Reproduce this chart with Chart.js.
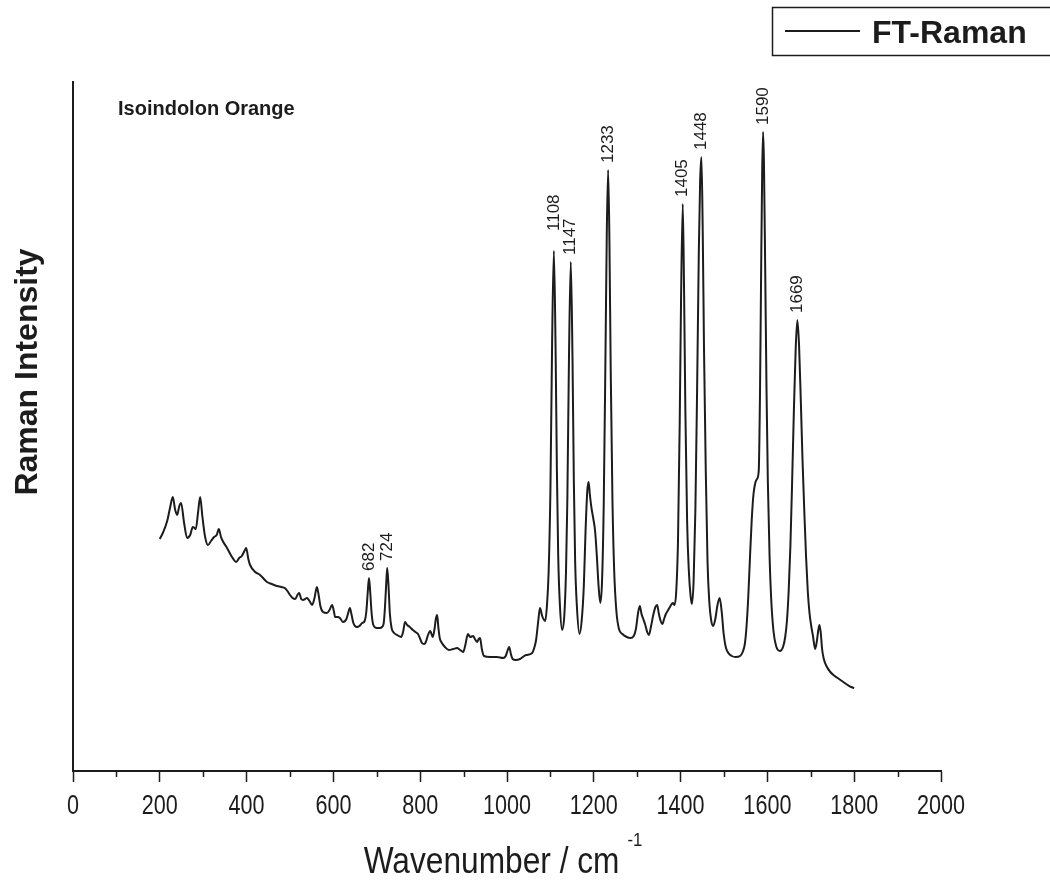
<!DOCTYPE html>
<html>
<head>
<meta charset="utf-8">
<title>FT-Raman - Isoindolon Orange</title>
<script src="https://cdn.jsdelivr.net/npm/chart.js@4.4.1/dist/chart.umd.min.js"></script>
<style>
  html, body { margin: 0; padding: 0; background: #fff; }
  canvas { display: block; }
</style>
</head>
<body>
<canvas id="raman" width="1050" height="886"></canvas>
<script>
// FT-Raman spectrum, wavenumber (cm-1) against intensity (arbitrary units)
const sampleName = 'Isoindolon Orange';
const seriesLabel = 'FT-Raman';

const wavenumber = [
  200, 207, 217, 223, 230, 235, 240, 245, 249, 256, 263, 270, 276, 280, 283, 288, 293, 298,
  304, 311, 318, 325, 331, 336, 341, 345, 355, 365, 376, 383, 389, 395, 399, 404, 408, 420,
  431, 440, 447, 458, 470, 480, 488, 494, 500, 506, 512, 517, 521, 526, 530, 535, 539, 545,
  551, 556, 562, 566, 570, 576, 585, 591, 597, 601, 604, 610, 615, 622, 630, 634, 638, 642,
  646, 654, 660, 666, 672, 676, 679, 682, 685, 688, 692, 700, 707, 712, 716, 719, 722, 724,
  727, 730, 734, 740, 747, 756, 761, 765, 770, 776, 783, 789, 795, 800, 804, 809, 813, 818,
  823, 829, 833, 836, 839, 842, 845, 850, 857, 866, 876, 885, 892, 899, 904, 910, 915, 922,
  926, 931, 935, 938, 942, 947, 961, 977, 991, 997, 1001, 1005, 1009, 1013, 1020, 1030, 1044,
  1058, 1064, 1067, 1072, 1076, 1081, 1088, 1092, 1096, 1100, 1104, 1108, 1112, 1115, 1118,
  1122, 1127, 1132, 1136, 1139, 1143, 1147, 1151, 1154, 1157, 1161, 1167, 1172, 1177, 1181,
  1185, 1188, 1191, 1195, 1199, 1203, 1207, 1211, 1215, 1219, 1223, 1227, 1230, 1233, 1236,
  1239, 1243, 1247, 1252, 1258, 1266, 1276, 1284, 1292, 1297, 1302, 1306, 1310, 1314, 1318,
  1323, 1327, 1332, 1337, 1342, 1346, 1350, 1354, 1358, 1362, 1366, 1370, 1374, 1378, 1382,
  1386, 1390, 1394, 1398, 1401, 1405, 1408, 1411, 1415, 1419, 1423, 1426, 1430, 1434, 1438,
  1442, 1445, 1448, 1451, 1454, 1458, 1462, 1466, 1470, 1475, 1480, 1485, 1490, 1495, 1499,
  1504, 1510, 1518, 1527, 1537, 1543, 1548, 1552, 1556, 1560, 1564, 1568, 1572, 1576, 1580,
  1583, 1586, 1588, 1590, 1592, 1595, 1598, 1601, 1605, 1609, 1614, 1620, 1629, 1636, 1641,
  1645, 1649, 1653, 1657, 1661, 1665, 1669, 1673, 1677, 1681, 1685, 1689, 1693, 1697, 1701,
  1705, 1710, 1714, 1717, 1720, 1723, 1726, 1730, 1736, 1745, 1755, 1765, 1775, 1785, 1793,
  1800
];

const intensity = [
  232, 238, 250, 262, 274, 262, 256, 265, 268, 248, 233, 236, 244, 243, 242, 258, 274, 255,
  235, 226, 230, 234, 236, 242, 234, 230, 223, 215, 209, 213, 215, 220, 223, 212, 206, 199,
  196, 192, 189, 187, 185, 184, 183, 180, 176, 173, 172, 176, 178, 172, 171, 172, 173, 170,
  166, 172, 184, 176, 165, 159, 158, 161, 166, 160, 154, 154, 153, 149, 152, 158, 163, 156,
  148, 144, 145, 148, 150, 160, 178, 193, 178, 158, 146, 143, 143, 144, 148, 165, 190, 203,
  185, 158, 143, 138, 136, 134, 140, 149, 146, 144, 141, 139, 137, 132, 128, 127, 129, 136,
  140, 134, 142, 152, 156, 143, 133, 128, 124, 121, 122, 123, 121, 119, 126, 137, 134, 135,
  132, 129, 132, 133, 122, 115, 114, 114, 113, 115, 120, 124, 117, 112, 111, 112, 116,
  118, 125, 131, 150, 163, 155, 150, 165, 200, 280, 430, 520, 420, 300, 215,
  165, 141, 155, 200, 270, 420, 509, 410, 290, 210, 165, 137, 150, 185, 240,
  280, 289, 276, 262, 252, 240, 215, 185, 168, 190, 270, 420, 540, 601, 530,
  400, 270, 200, 160, 142, 137, 134, 133, 135, 142, 158, 165, 157, 152, 147,
  139, 136, 145, 156, 164, 166, 157, 150, 147, 152, 157, 160, 163, 166, 168,
  166, 180, 230, 350, 470, 567, 480, 360, 250, 200, 175, 167, 190, 260, 380,
  520, 590, 614, 540, 420, 300, 210, 170, 152, 145, 152, 166, 173, 158, 138,
  124, 118, 115, 114, 115, 119, 127, 145, 175, 215, 252, 277, 288, 292, 300,
  380, 520, 600, 639, 610, 500, 380, 290, 215, 170, 140, 125, 120, 124, 134,
  150, 180, 225, 290, 360, 420, 451, 425, 370, 310, 260, 215, 180, 158, 145,
  135, 122, 130, 140, 146, 138, 122, 112, 105, 99, 95, 92, 89, 86, 84,
  83
];

// bands annotated above their peaks
const bandPositions = [682, 724, 1108, 1147, 1233, 1405, 1448, 1590, 1669];

const xTicks = { min: 0, max: 2000, major: 200, minor: 100 };
const yRange = { min: 0, max: 689 };

const points = wavenumber.map((w, i) => ({ x: w, y: intensity[i] }));

const INK = '#1c1c1c';
const SANS = '"Liberation Sans", Arial, Helvetica, sans-serif';
const NARROW = 0.8; // horizontal squeeze for the axis lettering

// short minor ticks between the labelled ones
const minorTicks = {
  id: 'minorTicks',
  afterDraw(chart) {
    const x = chart.scales.x;
    const ctx = chart.ctx;
    ctx.save();
    ctx.strokeStyle = INK;
    ctx.lineWidth = 1.5;
    for (let v = xTicks.minor; v < xTicks.max; v += xTicks.major) {
      const px = Math.round(x.getPixelForValue(v)) + 0.5;
      ctx.beginPath();
      ctx.moveTo(px, x.top);
      ctx.lineTo(px, x.top + 6);
      ctx.stroke();
    }
    ctx.restore();
  }
};

// condensed tick labels and axis title under the x axis
const xAxisText = {
  id: 'xAxisText',
  afterDraw(chart) {
    const s = chart.scales.x;
    const area = chart.chartArea;
    const ctx = chart.ctx;
    ctx.save();
    ctx.fillStyle = INK;
    ctx.textAlign = 'center';
    ctx.textBaseline = 'alphabetic';
    ctx.font = '27px ' + SANS;
    s.ticks.forEach((t, i) => {
      ctx.save();
      ctx.translate(s.getPixelForTick(i), s.top + 43);
      ctx.scale(NARROW, 1);
      ctx.fillText(String(t.value), 0, 0);
      ctx.restore();
    });

    const main = 'Wavenumber / cm';
    const sup = '-1';
    ctx.font = '36px ' + SANS;
    const w1 = ctx.measureText(main).width * 0.88;
    ctx.font = '19px ' + SANS;
    const w2 = ctx.measureText(sup).width * 0.88;
    const gap = 8;
    const x0 = (area.left + area.right) / 2 - (w1 + gap + w2) / 2 - 4;
    ctx.textAlign = 'left';
    ctx.save();
    ctx.translate(x0, 873);
    ctx.scale(0.88, 1);
    ctx.font = '36px ' + SANS;
    ctx.fillText(main, 0, 0);
    ctx.restore();
    ctx.save();
    ctx.translate(x0 + w1 + gap, 846);
    ctx.scale(0.88, 1);
    ctx.font = '19px ' + SANS;
    ctx.fillText(sup, 0, 0);
    ctx.restore();
    ctx.restore();
  }
};

// wavenumber labels set vertically above the main bands
const bandLabels = {
  id: 'bandLabels',
  afterDatasetsDraw(chart, args, opts) {
    const { x, y } = chart.scales;
    const ctx = chart.ctx;
    ctx.save();
    ctx.fillStyle = INK;
    ctx.font = '17px ' + SANS;
    ctx.textAlign = 'left';
    ctx.textBaseline = 'middle';
    bandPositions.forEach(b => {
      const i = wavenumber.indexOf(b);
      if (i < 0) return;
      const px = x.getPixelForValue(b);
      const py = y.getPixelForValue(intensity[i]);
      const gap = opts.lift[b] || opts.gap;
      ctx.save();
      ctx.translate(px, py - gap);
      ctx.rotate(-Math.PI / 2);
      ctx.fillText(String(b), 0, 0);
      ctx.restore();
    });
    ctx.restore();
  }
};

// sample name, y-axis title and the framed legend in the top corner
const decorations = {
  id: 'decorations',
  afterDraw(chart) {
    const ctx = chart.ctx;
    const area = chart.chartArea;
    const ds = chart.data.datasets[0];
    ctx.save();
    ctx.fillStyle = INK;
    ctx.font = 'bold 20px ' + SANS;
    ctx.textAlign = 'left';
    ctx.textBaseline = 'middle';
    ctx.fillText(sampleName, area.left + 45, area.top + 27);

    ctx.save();
    ctx.translate(28, 372);
    ctx.rotate(-Math.PI / 2);
    ctx.textAlign = 'center';
    ctx.font = 'bold 32px ' + SANS;
    ctx.fillText('Raman Intensity', 0, 0);
    ctx.restore();

    ctx.strokeStyle = INK;
    ctx.lineWidth = 1.5;
    ctx.strokeRect(772.5, 7.5, chart.width, 48);
    ctx.strokeStyle = ds.borderColor;
    ctx.lineWidth = ds.borderWidth;
    ctx.beginPath();
    ctx.moveTo(785, 31);
    ctx.lineTo(860, 31);
    ctx.stroke();
    ctx.font = 'bold 32px ' + SANS;
    ctx.textBaseline = 'alphabetic';
    ctx.fillText(ds.label, 872, 43);
    ctx.restore();
  }
};

new Chart(document.getElementById('raman'), {
  type: 'line',
  data: {
    datasets: [{
      label: seriesLabel,
      data: points,
      borderColor: INK,
      borderWidth: 2,
      pointRadius: 0,
      fill: false,
      cubicInterpolationMode: 'monotone'
    }]
  },
  options: {
    responsive: false,
    animation: false,
    layout: { padding: 0 },
    scales: {
      x: {
        type: 'linear',
        min: xTicks.min,
        max: xTicks.max,
        afterFit(s) { s.height = 115; s.paddingRight = 109; },
        border: { display: true, color: INK, width: 2 },
        grid: { drawOnChartArea: false, drawTicks: true, tickLength: 11, tickWidth: 1.5, tickColor: INK },
        ticks: { stepSize: xTicks.major, autoSkip: false, display: false }
      },
      y: {
        min: yRange.min,
        max: yRange.max,
        afterFit(s) { s.width = 73; s.paddingTop = 82; },
        border: { display: true, color: INK, width: 2 },
        grid: { display: false, drawTicks: false },
        ticks: { display: false }
      }
    },
    plugins: {
      legend: { display: false },
      tooltip: { enabled: false },
      bandLabels: { gap: 7, lift: { 1108: 20 } }
    }
  },
  plugins: [minorTicks, xAxisText, bandLabels, decorations]
});
</script>
</body>
</html>
